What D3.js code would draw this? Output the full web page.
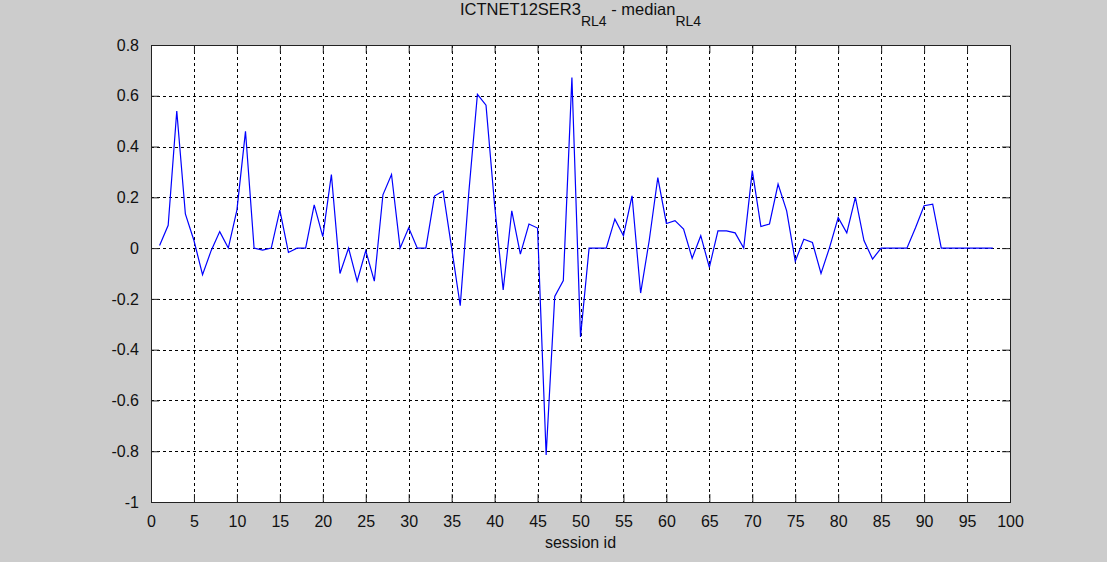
<!DOCTYPE html>
<html>
<head>
<meta charset="utf-8">
<script src="https://cdn.jsdelivr.net/npm/d3@7"></script>
<style>
  html, body { margin: 0; padding: 0; background: #cccccc; }
  svg { display: block; font-family: "Liberation Sans", Arial, sans-serif; }
</style>
</head>
<body>
<div class="canvas"></div>
<script>
// difference ICTNET12SER3 - median, one value per session (session id = index + 1)
const diffValues = [
  0.01, 0.09, 0.54, 0.135, 0.03, -0.105, -0.01, 0.065, 0.0, 0.15,
  0.46, 0.0, -0.008, 0.0, 0.15, -0.017, 0.0, 0.0, 0.17, 0.045,
  0.29, -0.1, 0.0, -0.13, -0.01, -0.13, 0.21, 0.29, 0.0, 0.08,
  0.0, 0.0, 0.205, 0.225, 0.0, -0.227, 0.22, 0.606, 0.563, 0.17,
  -0.165, 0.147, -0.024, 0.095, 0.079, -0.815, -0.19, -0.128, 0.672, -0.35,
  0.0, 0.0, 0.0, 0.114, 0.049, 0.206, -0.177, 0.03, 0.278, 0.097,
  0.108, 0.075, -0.04, 0.049, -0.076, 0.068, 0.068, 0.06, 0.0, 0.305,
  0.085, 0.095, 0.252, 0.147, -0.052, 0.035, 0.022, -0.1, 0.003, 0.12,
  0.06, 0.2, 0.03, -0.043, 0.0, 0.0, 0.0, 0.0, 0.08, 0.167,
  0.173, 0.0, 0.0, 0.0, 0.0, 0.0, 0.0, 0.0
];
const xTicks = [0,5,10,15,20,25,30,35,40,45,50,55,60,65,70,75,80,85,90,95,100];
const yTicks = [-1,-0.8,-0.6,-0.4,-0.2,0,0.2,0.4,0.6,0.8];
const yTickLabels = ['-1','-0.8','-0.6','-0.4','-0.2','0','0.2','0.4','0.6','0.8'];

const W = 1107, H = 562;
const box = {left: 151, right: 1010, top: 45, bottom: 502};

const svg = d3.select('.canvas').append('svg')
  .attr('width', W)
  .attr('height', H);

svg.append('rect').attr('width', W).attr('height', H).attr('fill', '#cccccc');

const x = d3.scaleLinear().domain([0, 100]).range([box.left, box.right]);
const y = d3.scaleLinear().domain([-1, 0.8]).range([box.bottom, box.top]);

// plot area
svg.append('rect')
  .attr('x', box.left).attr('y', box.top)
  .attr('width', box.right - box.left).attr('height', box.bottom - box.top)
  .attr('fill', '#fff');

// grid
const grid = svg.append('g').attr('stroke', '#000').attr('stroke-width', 1)
  .attr('stroke-dasharray', '3,3').attr('shape-rendering', 'crispEdges');
grid.selectAll('line.vx').data(xTicks.slice(1, -1)).enter().append('line')
  .attr('x1', d => Math.round(x(d)) + 0.5).attr('x2', d => Math.round(x(d)) + 0.5)
  .attr('y1', box.top).attr('y2', box.bottom);
grid.selectAll('line.hy').data(yTicks.slice(1, -1)).enter().append('line')
  .attr('y1', d => Math.round(y(d)) + 0.5).attr('y2', d => Math.round(y(d)) + 0.5)
  .attr('x1', box.left).attr('x2', box.right);

// axes with inward ticks, mirrored on top/right
const tickLen = 8;
const axisStyle = g => {
  g.select('.domain').remove();
  g.selectAll('.tick line').attr('stroke', '#222');
  g.selectAll('.tick text').attr('fill', '#111').style('font-size', '16px')
    .style('font-family', '"Liberation Sans", Arial, sans-serif');
};

svg.append('g').attr('transform', `translate(0,${box.bottom})`)
  .call(d3.axisBottom(x).tickValues(xTicks).tickSizeInner(-tickLen).tickSizeOuter(0).tickPadding(14).tickFormat(d3.format('d')))
  .call(axisStyle);
svg.append('g').attr('transform', `translate(0,${box.top})`)
  .call(d3.axisTop(x).tickValues(xTicks).tickSizeInner(-tickLen).tickSizeOuter(0).tickFormat(''))
  .call(axisStyle);
svg.append('g').attr('transform', `translate(${box.left},0)`)
  .call(d3.axisLeft(y).tickValues(yTicks).tickSizeInner(-tickLen).tickSizeOuter(0).tickPadding(12)
    .tickFormat((d, i) => yTickLabels[i]))
  .call(axisStyle);
svg.append('g').attr('transform', `translate(${box.right},0)`)
  .call(d3.axisRight(y).tickValues(yTicks).tickSizeInner(-tickLen).tickSizeOuter(0).tickFormat(''))
  .call(axisStyle);

// frame
svg.append('rect')
  .attr('x', box.left + 0.5).attr('y', box.top + 0.5)
  .attr('width', box.right - box.left).attr('height', box.bottom - box.top)
  .attr('fill', 'none').attr('stroke', '#222').attr('stroke-width', 1);

// series line
const line = d3.line()
  .x((d, i) => x(i + 1))
  .y(d => y(d));

svg.append('path')
  .datum(diffValues)
  .attr('d', line)
  .attr('fill', 'none')
  .attr('stroke', '#0000ff')
  .attr('stroke-width', 1.2);

// title with subscripts
const title = svg.append('text')
  .attr('x', (box.left + box.right) / 2)
  .attr('y', 15)
  .attr('text-anchor', 'middle')
  .style('font-size', '16.5px')
  .attr('fill', '#111');
title.append('tspan').text('ICTNET12SER3');
title.append('tspan').attr('dy', 11).style('font-size', '14px').text('RL4');
title.append('tspan').attr('dy', -11).text(' - median');
title.append('tspan').attr('dy', 11).style('font-size', '14px').text('RL4');

// x label
svg.append('text')
  .attr('x', (box.left + box.right) / 2)
  .attr('y', 548)
  .attr('text-anchor', 'middle')
  .style('font-size', '16px')
  .attr('fill', '#111')
  .text('session id');
</script>
</body>
</html>
